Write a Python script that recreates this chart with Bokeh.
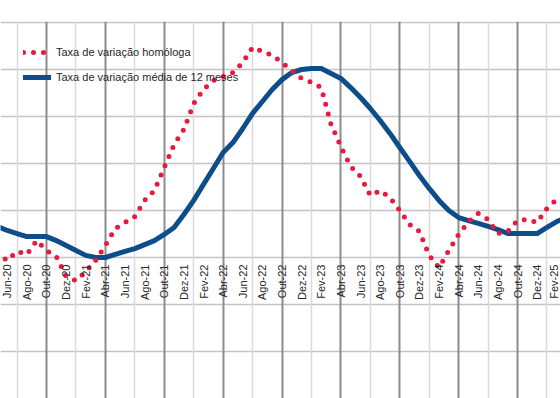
from math import pi
from bokeh.plotting import figure
from bokeh.models import (LinearAxis, FixedTicker, Grid, Range1d, Legend,
                          LegendItem, ColumnDataSource)
from bokeh.embed import file_html
from bokeh.resources import INLINE

months = [
    "Mai-20", "Jun-20", "Jul-20", "Ago-20", "Set-20", "Out-20", "Nov-20", "Dez-20",
    "Jan-21", "Fev-21", "Mar-21", "Abr-21", "Mai-21", "Jun-21", "Jul-21", "Ago-21",
    "Set-21", "Out-21", "Nov-21", "Dez-21",
    "Jan-22", "Fev-22", "Mar-22", "Abr-22", "Mai-22", "Jun-22", "Jul-22", "Ago-22",
    "Set-22", "Out-22", "Nov-22", "Dez-22",
    "Jan-23", "Fev-23", "Mar-23", "Abr-23", "Mai-23", "Jun-23", "Jul-23", "Ago-23",
    "Set-23", "Out-23", "Nov-23", "Dez-23",
    "Jan-24", "Fev-24", "Mar-24", "Abr-24", "Mai-24", "Jun-24", "Jul-24", "Ago-24",
    "Set-24", "Out-24", "Nov-24", "Dez-24",
    "Jan-25", "Fev-25", "Mar-25",
]

homologa = [
    0.21, -0.13, 0.26, 0.13, 0.72, 0.30, 0.04, -0.81,
    -0.98, -0.60, -0.13, 0.51, 1.23, 1.49, 1.74, 2.43,
    2.85, 3.83, 4.81, 5.45,
    6.55, 7.15, 7.53, 7.70, 7.87, 8.30, 8.94, 8.77,
    8.60, 8.30, 7.96, 7.62,
    7.45, 7.23, 5.66, 4.72, 3.87, 3.45, 2.64, 2.85,
    2.55, 2.00, 1.40, 1.11,
    0.09, -0.43, 0.30, 0.98, 1.53, 1.87, 1.62, 1.02,
    1.11, 1.57, 1.62, 1.49,
    2.09, 2.47, 2.34,
]

media12 = [
    1.32, 1.15, 1.02, 0.89, 0.89, 0.89, 0.72, 0.51,
    0.30, 0.09, 0.00, 0.00, 0.13, 0.26, 0.38, 0.55,
    0.72, 0.98, 1.28, 1.83,
    2.43, 3.11, 3.79, 4.47, 4.89, 5.49, 6.13, 6.64,
    7.15, 7.57, 7.87, 8.00,
    8.04, 8.04, 7.83, 7.62, 7.23, 6.81, 6.34, 5.83,
    5.28, 4.68, 4.09, 3.49,
    2.94, 2.43, 2.00, 1.70, 1.57, 1.45, 1.32, 1.19,
    1.02, 1.02, 1.02, 1.02,
    1.28, 1.53, 1.70,
]

tick_labels = [
    "Jun-20", "Ago-20", "Out-20", "Dez-20", "Fev-21", "Abr-21", "Jun-21", "Ago-21",
    "Out-21", "Dez-21", "Fev-22", "Abr-22", "Jun-22", "Ago-22", "Out-22", "Dez-22",
    "Fev-23", "Abr-23", "Jun-23", "Ago-23", "Out-23", "Dez-23", "Fev-24", "Abr-24",
    "Jun-24", "Ago-24", "Out-24", "Dez-24", "Fev-25",
]

y_grid_values = [-6, -4, -2, 0, 2, 4, 6, 8, 10]

x = list(range(len(months)))
src = ColumnDataSource(dict(x=x, mes=months, homologa=homologa, media12=media12))

tick_pos = [months.index(t) for t in tick_labels]
major_v = [i for i, m in enumerate(months) if m[:3] in ("Abr", "Out")]
minor_v = [i for i, m in enumerate(months) if m[:3] in ("Jan", "Jul")]

p = figure(width=560, height=398, output_backend="svg", toolbar_location=None,
           x_range=Range1d(0.312, 57.38), y_range=Range1d(-6.0, 10.043),
           x_axis_location=None, y_axis_location=None,
           min_border_left=0, min_border_right=0, min_border_top=21,
           min_border_bottom=0, outline_line_color=None,
           background_fill_color="white", border_fill_color="white")
p.xgrid.visible = False
p.ygrid.visible = False

p.add_layout(Grid(dimension=1, ticker=FixedTicker(ticks=y_grid_values),
                  grid_line_color="#c3c3c3", grid_line_width=1.5))
p.add_layout(Grid(dimension=0, ticker=FixedTicker(ticks=minor_v),
                  grid_line_color="#d9d9d9", grid_line_width=1.5))
p.add_layout(Grid(dimension=0, ticker=FixedTicker(ticks=major_v),
                  grid_line_color="#8c8c8c", grid_line_width=2))

r_med = p.line("x", "media12", source=src, line_color="#0d4d8a", line_width=5,
               line_join="round", line_cap="round")
r_hom = p.line("x", "homologa", source=src, line_color="#e8193f", line_width=5,
               line_dash="0 10", line_cap="round")

ax = LinearAxis(fixed_location=0, ticker=FixedTicker(ticks=tick_pos),
                major_label_overrides={pos: lab for pos, lab in zip(tick_pos, tick_labels)},
                major_label_orientation=pi / 2,
                axis_line_color=None, major_tick_line_color=None,
                minor_tick_line_color=None, major_tick_in=0, major_tick_out=0,
                minor_tick_in=0, minor_tick_out=0,
                major_label_standoff=7,
                major_label_text_font="Liberation Sans",
                major_label_text_font_size="11px",
                major_label_text_color="#262626")
p.add_layout(ax, "below")

legend = Legend(items=[
    LegendItem(label="Taxa de variação homóloga", renderers=[r_hom]),
    LegendItem(label="Taxa de variação média de 12 meses", renderers=[r_med]),
], location=(23, 310), orientation="vertical", glyph_width=28, glyph_height=22,
    label_height=22, spacing=3, padding=0, margin=0, label_standoff=5,
    border_line_color=None, background_fill_alpha=0,
    label_text_font="Liberation Sans", label_text_font_size="11px",
    label_text_color="#262626")
p.add_layout(legend)

open("out.html", "w").write(file_html(p, INLINE))
